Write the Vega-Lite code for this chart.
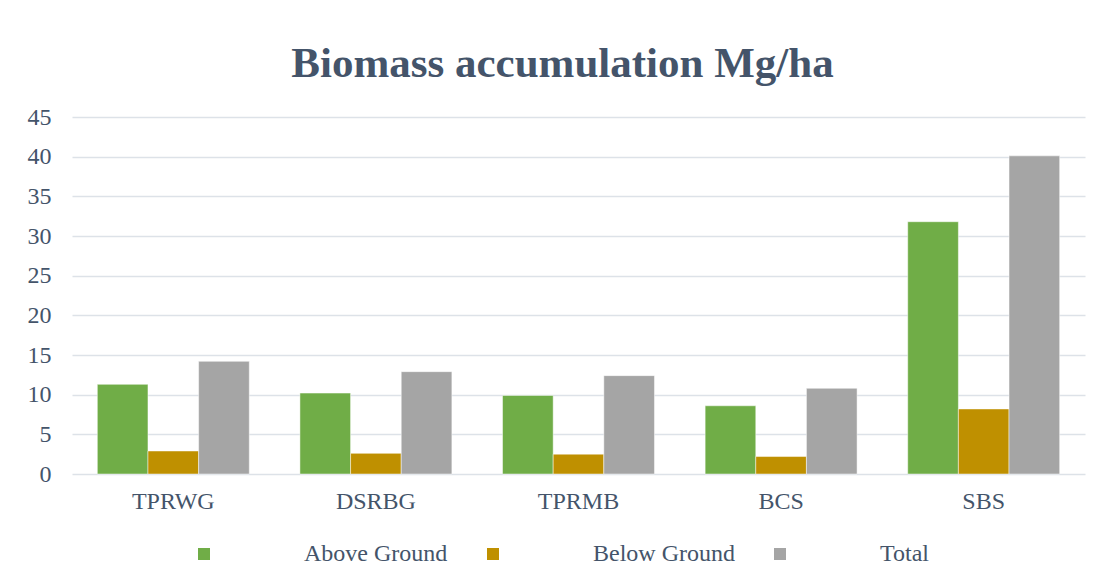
{
  "$schema": "https://vega.github.io/schema/vega-lite/v6.json",
  "autosize": {"type": "none"},
  "width": 1013,
  "height": 357,
  "padding": {"left": 72, "top": 117, "right": 17, "bottom": 109},
  "background": "#ffffff",
  "title": {
    "text": "Biomass accumulation Mg/ha",
    "font": "Liberation Serif",
    "fontSize": 43,
    "fontWeight": "bold",
    "color": "#44546A",
    "anchor": "middle",
    "offset": 19,
    "dx": -16
  },
  "data": {
    "values": [
      {"site": "TPRWG", "component": "Above Ground", "value": 11.3},
      {"site": "TPRWG", "component": "Below Ground", "value": 2.9},
      {"site": "TPRWG", "component": "Total", "value": 14.2},
      {"site": "DSRBG", "component": "Above Ground", "value": 10.2},
      {"site": "DSRBG", "component": "Below Ground", "value": 2.6},
      {"site": "DSRBG", "component": "Total", "value": 12.9},
      {"site": "TPRMB", "component": "Above Ground", "value": 9.9},
      {"site": "TPRMB", "component": "Below Ground", "value": 2.5},
      {"site": "TPRMB", "component": "Total", "value": 12.4},
      {"site": "BCS", "component": "Above Ground", "value": 8.6},
      {"site": "BCS", "component": "Below Ground", "value": 2.2},
      {"site": "BCS", "component": "Total", "value": 10.8},
      {"site": "SBS", "component": "Above Ground", "value": 31.8},
      {"site": "SBS", "component": "Below Ground", "value": 8.2},
      {"site": "SBS", "component": "Total", "value": 40.1}
    ]
  },
  "mark": {"type": "bar", "stroke": "#ffffff", "strokeWidth": 0.8, "strokeOpacity": 0.6},
  "encoding": {
    "x": {
      "field": "site",
      "type": "nominal",
      "sort": ["TPRWG", "DSRBG", "TPRMB", "BCS", "SBS"],
      "scale": {"paddingInner": 0.25, "paddingOuter": 0.125},
      "axis": {
        "title": null,
        "labelAngle": 0,
        "domain": false,
        "ticks": false,
        "labelPadding": 15,
        "labelFont": "Liberation Serif",
        "labelFontSize": 24,
        "labelColor": "#44546A"
      }
    },
    "xOffset": {
      "field": "component",
      "type": "nominal",
      "sort": ["Above Ground", "Below Ground", "Total"],
      "scale": {"paddingInner": 0, "paddingOuter": 0}
    },
    "y": {
      "field": "value",
      "type": "quantitative",
      "scale": {"domain": [0, 45], "nice": false},
      "axis": {
        "title": null,
        "values": [0, 5, 10, 15, 20, 25, 30, 35, 40, 45],
        "domain": false,
        "ticks": false,
        "labelPadding": 21,
        "labelFont": "Liberation Serif",
        "labelFontSize": 24,
        "labelColor": "#44546A",
        "gridColor": "#DDE2E8",
        "gridWidth": 1.5
      }
    },
    "color": {
      "field": "component",
      "type": "nominal",
      "sort": ["Above Ground", "Below Ground", "Total"],
      "scale": {"domain": ["Above Ground", "Below Ground", "Total"], "range": ["#70AD47", "#BF9000", "#A5A5A5"]},
      "legend": {
        "title": null,
        "orient": "none",
        "direction": "horizontal",
        "legendX": 120,
        "legendY": 425,
        "padding": 0,
        "symbolType": "square",
        "symbolSize": 144,
        "symbolStrokeWidth": 0,
        "labelOffset": 88,
        "columnPadding": 33,
        "labelFont": "Liberation Serif",
        "labelFontSize": 24,
        "labelColor": "#44546A"
      }
    }
  },
  "config": {
    "view": {"stroke": null}
  }
}
